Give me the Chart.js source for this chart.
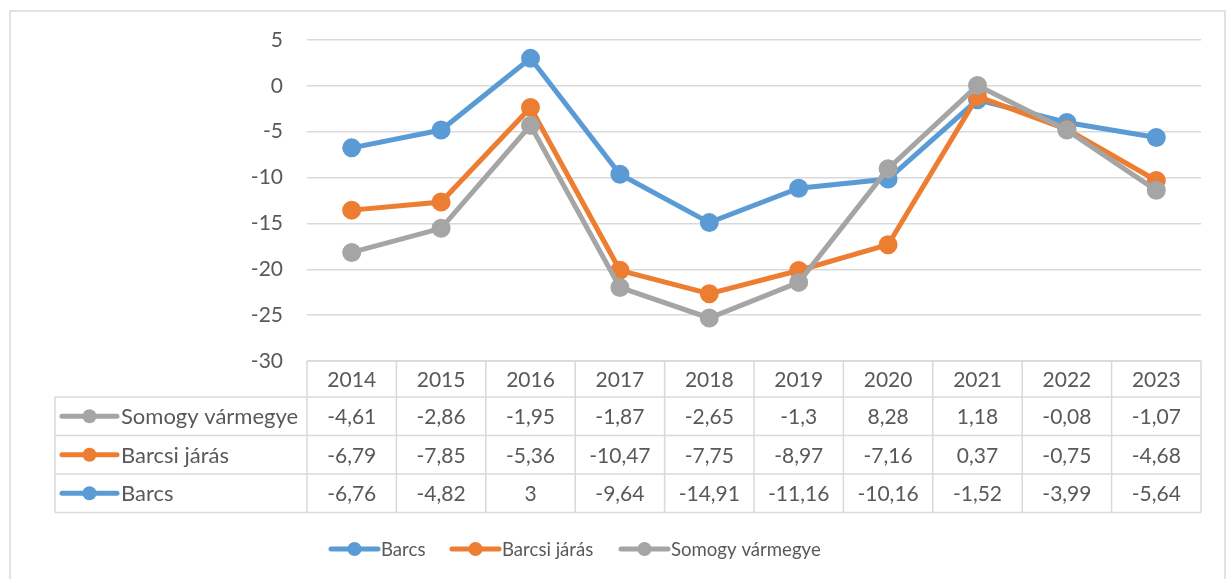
<!DOCTYPE html>
<html>
<head>
<meta charset="utf-8">
<script src="https://cdn.jsdelivr.net/npm/chart.js@4/dist/chart.umd.min.js"></script>
<style>
  html, body { margin: 0; padding: 0; background: #fff; }
  #c { display: block; }
</style>
</head>
<body>
<canvas id="c" width="1231" height="579"></canvas>
<script>
const years = ["2014", "2015", "2016", "2017", "2018", "2019", "2020", "2021", "2022", "2023"];
const barcs = [-6.76, -4.82, 3, -9.64, -14.91, -11.16, -10.16, -1.52, -3.99, -5.64];
const barcsiJaras = [-6.79, -7.85, -5.36, -10.47, -7.75, -8.97, -7.16, 0.37, -0.75, -4.68];
const somogy = [-4.61, -2.86, -1.95, -1.87, -2.65, -1.3, 8.28, 1.18, -0.08, -1.07];
const seriesNames = ["Barcs", "Barcsi járás", "Somogy vármegye"];
const seriesColors = ["#5b9bd5", "#ed7d31", "#a5a5a5"];
const seriesValues = [barcs, barcsiJaras, somogy];

const textColor = "#595959";
const gridColor = "#d9d9d9";
const fontFamily = "Lato, 'Noto Sans', sans-serif";

function fmt(v) {
  return String(v).replace(".", ",");
}

function drawMarker(ctx, x0, x1, y, color, lw, r) {
  ctx.strokeStyle = color;
  ctx.lineWidth = lw;
  ctx.lineCap = "round";
  ctx.beginPath();
  ctx.moveTo(x0, y);
  ctx.lineTo(x1, y);
  ctx.stroke();
  ctx.fillStyle = color;
  ctx.beginPath();
  ctx.arc((x0 + x1) / 2, y, r, 0, Math.PI * 2);
  ctx.fill();
}

// frame, data table under the plot and the legend
const tablePlugin = {
  id: "tablePlugin",
  beforeDraw(chart) {
    const ctx = chart.ctx;
    ctx.save();
    ctx.fillStyle = "#fff";
    ctx.fillRect(0, 0, chart.width, chart.height);
    ctx.strokeStyle = gridColor;
    ctx.lineWidth = 1.5;
    ctx.strokeRect(10, 11, 1215, 620);
    ctx.restore();
  },
  beforeDatasetsDraw(chart) {
    // excel draws the last series on top
    for (let i = 0; i < chart.data.datasets.length; i++) {
      chart.getDatasetMeta(i).controller.draw();
    }
    return false;
  },
  afterDraw(chart) {
    const ctx = chart.ctx;
    const xs = chart.scales.x;
    const area = chart.chartArea;
    const colW = xs.width / years.length;
    const top = area.bottom;
    const headerBottom = top + 36;
    const rowH = 38.5;
    const tableBottom = headerBottom + rowH * 3;
    const labelLeft = 55;

    ctx.save();
    ctx.strokeStyle = gridColor;
    ctx.lineWidth = 1.5;
    ctx.beginPath();
    ctx.moveTo(area.left, top);
    ctx.lineTo(area.right, top);
    for (let r = 0; r <= 3; r++) {
      const y = headerBottom + r * rowH;
      ctx.moveTo(labelLeft, y);
      ctx.lineTo(area.right, y);
    }
    ctx.moveTo(labelLeft, headerBottom);
    ctx.lineTo(labelLeft, tableBottom);
    for (let c = 0; c <= years.length; c++) {
      const x = area.left + c * colW;
      ctx.moveTo(x, top);
      ctx.lineTo(x, tableBottom);
    }
    ctx.stroke();

    ctx.textBaseline = "middle";
    for (let r = 0; r < 3; r++) {
      const s = 2 - r;
      const cy = headerBottom + rowH * r + rowH / 2;
      drawMarker(ctx, 62, 117, cy, seriesColors[s], 5, 7);
      ctx.fillStyle = textColor;
      ctx.textAlign = "left";
      ctx.font = "22px " + fontFamily;
      ctx.fillText(seriesNames[s], 121, cy + 1);
      ctx.textAlign = "center";
      ctx.font = "21px " + fontFamily;
      seriesValues[s].forEach((v, i) => {
        ctx.fillText(fmt(v), xs.getPixelForValue(i), cy + 1);
      });
    }

    // legend
    const legendY = 549;
    const legendX = [331, 452, 621];
    ctx.font = "18.6px " + fontFamily;
    ctx.textAlign = "left";
    for (let s = 0; s < 3; s++) {
      drawMarker(ctx, legendX[s], legendX[s] + 47, legendY, seriesColors[s], 5, 7);
      ctx.fillStyle = textColor;
      ctx.fillText(seriesNames[s], legendX[s] + 50, legendY + 1);
    }
    ctx.restore();
  }
};

new Chart(document.getElementById("c"), {
  type: "line",
  data: {
    labels: years,
    datasets: seriesNames.map((name, i) => ({
      label: name,
      data: seriesValues[i],
      borderColor: seriesColors[i],
      backgroundColor: seriesColors[i],
      pointBackgroundColor: seriesColors[i],
      pointBorderColor: seriesColors[i],
      borderWidth: 5,
      pointRadius: 7,
      pointHoverRadius: 7,
      tension: 0,
      fill: false,
    })),
  },
  options: {
    responsive: false,
    animation: false,
    layout: { padding: { left: 10, right: 30, top: 40, bottom: 0 } },
    plugins: {
      legend: { display: false },
      tooltip: { enabled: false },
    },
    scales: {
      x: {
        offset: true,
        grid: { display: false },
        border: { display: false },
        ticks: { color: textColor, font: { family: fontFamily, size: 21 }, padding: -1 },
        afterFit(scale) { scale.height = 218; },
      },
      y: {
        stacked: "single",
        min: -30,
        max: 5,
        ticks: { stepSize: 5, color: textColor, font: { family: fontFamily, size: 21 }, padding: 24 },
        grid: { color: gridColor, lineWidth: 1.5, drawTicks: false },
        border: { display: false },
        afterFit(scale) { scale.width = 297; },
      },
    },
  },
  plugins: [tablePlugin],
});
</script>
</body>
</html>
